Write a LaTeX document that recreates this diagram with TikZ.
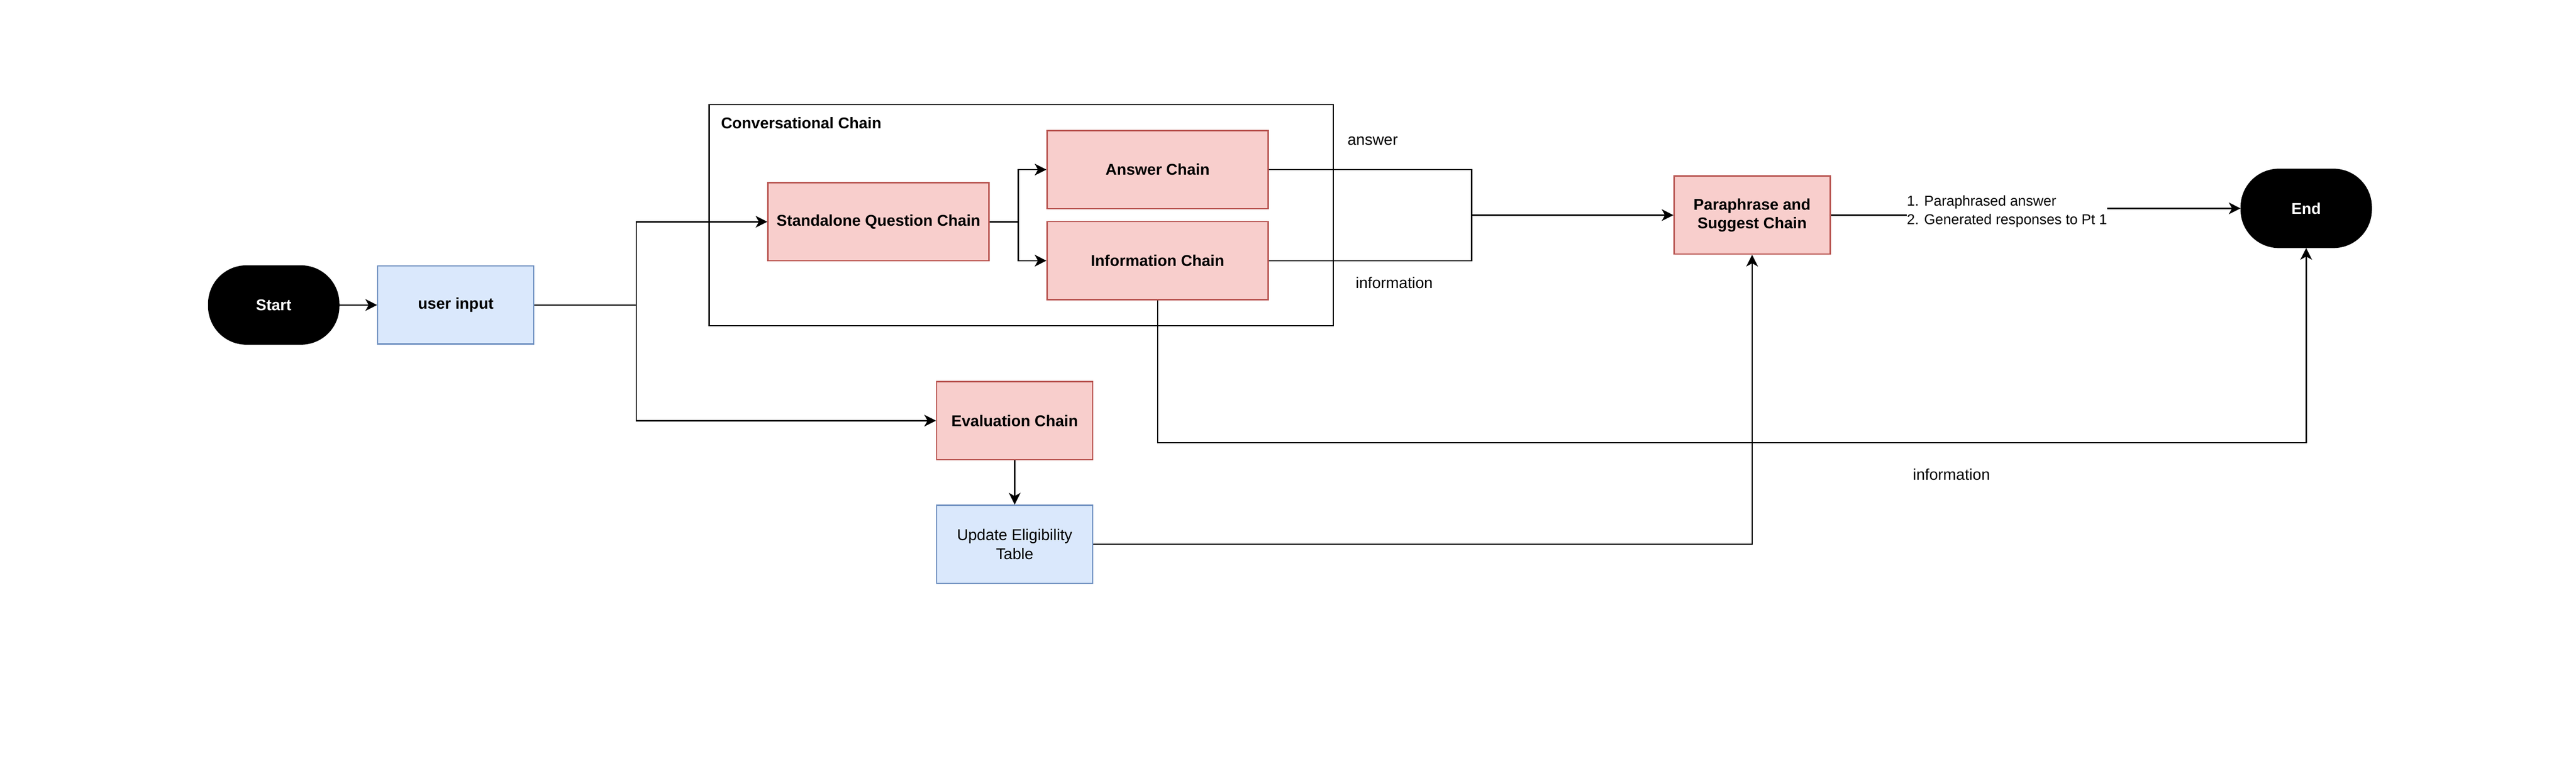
\documentclass[tikz,border=0pt]{standalone}
\usepackage{fontspec}
\setmainfont{Liberation Sans}
\usepackage{tikz}
\usetikzlibrary{arrows.meta}

\definecolor{redfill}{HTML}{F8CECC}
\definecolor{redline}{HTML}{B85450}
\definecolor{bluefill}{HTML}{DAE8FC}
\definecolor{blueline}{HTML}{6C8EBF}
\newcommand{\boxfont}{\fontsize{12}{14.4}\selectfont}
\newcommand{\notefont}{\fontsize{11}{14.3}\selectfont}

\begin{document}
\begin{tikzpicture}[x=1pt, y=-1pt, line width=1pt, font=\boxfont,
	>={Stealth[length=9pt,width=9pt,inset=2.5pt]},
	term/.style={rectangle, rounded corners=29pt, draw=black, fill=black, text=white, font=\boxfont\bfseries, minimum width=100pt, minimum height=60pt},
	chain/.style={rectangle, draw=redline, fill=redfill, font=\boxfont\bfseries, minimum height=60pt, align=center},
	task/.style={rectangle, draw=blueline, fill=bluefill, minimum width=120pt, minimum height=60pt, align=center},
	lbl/.style={inner sep=0pt, anchor=west}]
			\useasboundingbox (0,0) rectangle (1981,594);
			
			\node[draw=black, minimum width=480pt, minimum height=170pt] (conv) at (785.4,165.4) {};
			\node[lbl, font=\boxfont\bfseries] (convtitle) at (554,94.75) {Conversational Chain};
			
			\node[term] (start) at (210.5,234.5) {Start};
			\node[task, font=\boxfont\bfseries] (input) at (350.5,234.5) {user input};
			\node[chain, minimum width=170pt] (standalone) at (675.6,170.5) {Standalone Question Chain};
			\node[chain, minimum width=170pt] (answer) at (890.2,130.4) {Answer Chain};
			\node[chain, minimum width=170pt] (info) at (890.2,200.4) {Information Chain};
			\node[chain, minimum width=120pt] (para) at (1347.4,165.4) {Paraphrase and\\Suggest Chain};
			\node[term] (end) at (1773.5,160.2) {End};
			\node[chain, minimum width=120pt] (eval) at (780.3,323.4) {Evaluation Chain};
			\node[task] (update) at (780.3,418.4) {Update Eligibility\\Table};
			
			\coordinate (split) at (489.25,234.5);
			\coordinate (fork) at (783,170.5);
			\coordinate (merge) at (1131.75,165.4);
			\coordinate (jog) at (1544,165.4);
			\coordinate (low) at (0,340.25);
			
			\draw[->] (start) -- (input);
			\draw (input) -- (split);
			\draw[->] (split) |- (standalone);
			\draw[->] (split) |- (eval);
			\draw (standalone) -- (fork);
			\draw[->] (fork) |- (answer);
			\draw[->] (fork) |- (info);
			\draw (answer) -| (merge);
			\draw (info) -| (merge);
			\draw[->] (merge) -- (para);
			\draw[->] (eval) -- (update);
			\draw[->] (update) -| (para);
			\draw[->] (info.south) -- (info.south |- low) -| (end);
			\draw[->] (para) -- (jog) |- (end);
			
			\node[lbl] (answerlbl) at (1035.75,108.25) {answer};
			\node[lbl] (infolbl) at (1042,217.25) {information};
			\node[lbl] (endlbl) at (1470.5,364.75) {information};
			\node[lbl, fill=white, align=left, font=\notefont] (outlbl) at (1466,162.6) {1. Paraphrased answer\\2. Generated responses to Pt 1};
		\end{tikzpicture}
\end{document}
